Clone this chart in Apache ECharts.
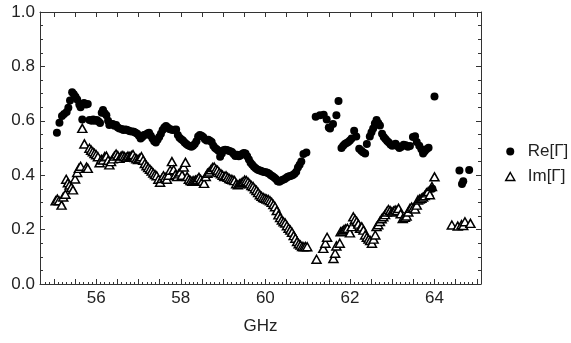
<!DOCTYPE html>
<html>
<head>
<meta charset="utf-8">
<script src="https://cdn.jsdelivr.net/npm/echarts@6/dist/echarts.min.js"></script>
<style>
html,body{margin:0;padding:0;background:#fff;}
#chart{width:571px;height:343px;}
</style>
</head>
<body>
<div id="chart"></div>
<script>
// ---- data ----
const reFreq = [55.07,55.13,55.19,55.24,55.30,55.34,55.38,55.43,55.47,55.51,55.55,55.60,55.63,55.67,55.71,55.76,55.80,55.84,55.89,55.93,55.97,56.01,56.05,56.09,56.13,56.16,56.20,56.24,56.28,56.31,56.35,56.39,56.43,56.47,56.51,56.55,56.60,56.64,56.68,56.72,56.76,56.80,56.85,56.89,56.93,56.97,57.01,57.05,57.09,57.13,57.17,57.21,57.25,57.29,57.33,57.37,57.41,57.45,57.49,57.53,57.57,57.61,57.65,57.69,57.73,57.77,57.81,57.85,57.89,57.93,57.97,58.01,58.05,58.09,58.13,58.17,58.21,58.25,58.29,58.33,58.37,58.41,58.45,58.49,58.53,58.57,58.61,58.65,58.69,58.73,58.77,58.81,58.85,58.89,58.93,58.97,59.01,59.05,59.09,59.13,59.17,59.21,59.25,59.29,59.33,59.37,59.41,59.45,59.49,59.53,59.57,59.61,59.65,59.69,59.73,59.77,59.81,59.85,59.89,59.93,59.97,60.01,60.05,60.09,60.13,60.17,60.21,60.25,60.29,60.33,60.37,60.41,60.45,60.49,60.53,60.57,60.61,60.65,60.69,60.73,60.77,60.81,60.85,60.90,60.97,
61.19,61.29,61.38,61.45,61.50,61.53,61.60,61.68,61.73,61.80,61.84,61.88,61.92,61.96,62.00,62.04,62.10,62.15,62.22,62.27,62.31,62.36,62.40,62.47,62.51,62.55,62.59,62.63,62.67,62.71,62.76,62.80,62.84,62.88,62.92,62.96,63.00,63.04,63.08,63.12,63.17,63.22,63.27,63.32,63.37,63.42,63.49,63.54,63.58,63.64,63.69,63.73,63.77,63.81,63.86,63.95,64.00,64.59,64.65,64.68,64.82];
const reVal = [0.556,0.593,0.618,0.625,0.632,0.648,0.675,0.705,0.698,0.688,0.678,0.660,0.650,0.605,0.665,0.660,0.662,0.603,0.600,0.605,0.600,0.603,0.598,0.592,0.630,0.640,0.628,0.620,0.600,0.585,0.588,0.588,0.582,0.585,0.575,0.572,0.570,0.566,0.568,0.567,0.564,0.562,0.561,0.560,0.556,0.552,0.545,0.535,0.540,0.548,0.549,0.553,0.556,0.545,0.535,0.525,0.520,0.530,0.540,0.552,0.566,0.575,0.581,0.575,0.570,0.568,0.566,0.567,0.568,0.548,0.538,0.532,0.528,0.520,0.515,0.510,0.507,0.505,0.508,0.515,0.525,0.542,0.548,0.545,0.540,0.532,0.528,0.530,0.527,0.522,0.508,0.500,0.495,0.490,0.468,0.480,0.492,0.494,0.493,0.490,0.488,0.485,0.478,0.471,0.475,0.470,0.472,0.478,0.482,0.480,0.470,0.458,0.446,0.438,0.431,0.426,0.421,0.418,0.416,0.414,0.412,0.411,0.409,0.405,0.400,0.396,0.392,0.386,0.378,0.376,0.380,0.383,0.385,0.390,0.394,0.396,0.398,0.401,0.405,0.413,0.428,0.438,0.450,0.478,0.483,
0.615,0.620,0.622,0.605,0.575,0.572,0.588,0.620,0.673,0.500,0.508,0.515,0.518,0.522,0.528,0.535,0.563,0.542,0.497,0.490,0.484,0.480,0.515,0.542,0.558,0.572,0.590,0.603,0.592,0.583,0.552,0.540,0.533,0.526,0.520,0.513,0.508,0.512,0.516,0.507,0.500,0.505,0.512,0.510,0.505,0.507,0.540,0.543,0.522,0.508,0.495,0.480,0.488,0.495,0.501,0.350,0.689,0.417,0.368,0.378,0.419];

const imFreq = [55.04,55.08,55.12,55.18,55.22,55.27,55.29,55.33,55.37,55.41,55.45,55.50,55.55,55.59,55.63,55.67,55.72,55.77,55.80,55.84,55.88,55.92,55.96,56.00,56.04,56.08,56.12,56.16,56.20,56.24,56.28,56.31,56.35,56.39,56.43,56.47,56.51,56.55,56.59,56.63,56.67,56.71,56.75,56.79,56.83,56.87,56.91,56.95,56.99,57.03,57.07,57.11,57.15,57.19,57.23,57.27,57.31,57.35,57.39,57.43,57.47,57.51,57.55,57.59,57.63,57.67,57.71,57.75,57.79,57.83,57.87,57.91,57.95,57.99,58.03,58.07,58.11,58.15,58.19,58.23,58.27,58.31,58.35,58.39,58.43,58.47,58.51,58.55,58.59,58.63,58.67,58.71,58.75,58.79,58.83,58.87,58.91,58.95,58.99,59.03,59.07,59.11,59.15,59.19,59.23,59.27,59.31,59.35,59.39,59.43,59.47,59.51,59.55,59.59,59.63,59.67,59.71,59.75,59.79,59.83,59.87,59.91,59.95,59.99,60.03,60.07,60.11,60.15,60.19,60.23,60.27,60.31,60.35,60.39,60.43,60.47,60.51,60.55,60.59,60.63,60.67,60.71,60.75,60.79,60.83,60.87,60.91,60.95,60.99,
61.21,61.37,61.42,61.46,61.61,61.65,61.68,61.76,61.78,61.82,61.86,61.90,61.94,62.00,62.04,62.08,62.12,62.16,62.20,62.24,62.28,62.32,62.36,62.40,62.44,62.48,62.52,62.56,62.60,62.63,62.67,62.71,62.75,62.79,62.83,62.87,62.91,62.95,62.99,63.03,63.07,63.11,63.15,63.20,63.25,63.30,63.34,63.38,63.42,63.46,63.50,63.54,63.58,63.61,63.65,63.69,63.73,63.77,63.81,63.85,63.89,63.94,64.00,64.41,64.55,64.64,64.68,64.72,64.85];
const imVal = [0.306,0.312,0.306,0.290,0.320,0.330,0.385,0.372,0.364,0.355,0.346,0.386,0.410,0.425,0.433,0.572,0.515,0.430,0.425,0.499,0.492,0.486,0.480,0.475,0.468,0.446,0.458,0.456,0.468,0.470,0.455,0.438,0.450,0.460,0.470,0.478,0.472,0.462,0.470,0.472,0.468,0.466,0.470,0.468,0.472,0.476,0.465,0.460,0.458,0.462,0.468,0.455,0.443,0.435,0.428,0.422,0.415,0.408,0.402,0.398,0.385,0.374,0.388,0.398,0.392,0.385,0.400,0.418,0.450,0.420,0.402,0.395,0.405,0.412,0.400,0.430,0.447,0.395,0.385,0.380,0.378,0.380,0.382,0.385,0.392,0.385,0.378,0.370,0.395,0.407,0.412,0.420,0.428,0.430,0.422,0.418,0.410,0.405,0.400,0.395,0.398,0.392,0.388,0.385,0.383,0.380,0.368,0.365,0.368,0.372,0.376,0.382,0.380,0.375,0.368,0.362,0.358,0.350,0.344,0.336,0.328,0.322,0.318,0.315,0.312,0.310,0.306,0.300,0.292,0.284,0.270,0.254,0.244,0.235,0.229,0.224,0.214,0.205,0.198,0.190,0.178,0.168,0.156,0.148,0.143,0.138,0.137,0.138,0.137,
0.091,0.131,0.150,0.172,0.094,0.113,0.140,0.150,0.192,0.195,0.200,0.203,0.205,0.188,0.211,0.247,0.238,0.230,0.220,0.205,0.210,0.198,0.180,0.172,0.165,0.160,0.150,0.165,0.180,0.211,0.218,0.230,0.240,0.247,0.255,0.265,0.274,0.270,0.265,0.268,0.272,0.270,0.278,0.258,0.241,0.245,0.250,0.265,0.278,0.283,0.280,0.276,0.290,0.309,0.312,0.315,0.320,0.325,0.335,0.340,0.328,0.358,0.394,0.217,0.213,0.218,0.215,0.229,0.223];

const seriesNames = ['Re[\u0393]', 'Im[\u0393]'];
const xTickLabels = [56, 58, 60, 62, 64];
const xMajorTicks = [55, 55.5, 56, 56.5, 57, 57.5, 58, 58.5, 59, 59.5, 60, 60.5, 61, 61.5, 62, 62.5, 63, 63.5, 64, 64.5, 65];
const yTickLabels = [0, 0.2, 0.4, 0.6, 0.8, 1.0];
const xTitle = 'GHz';

// ---- chart ----
const xMinor = [];
for (let i = 548; i <= 651; i++) xMinor.push(i / 10);

const reData = reFreq.map((f, i) => [f, reVal[i]]);
const imData = imFreq.map((f, i) => [f, imVal[i]]);

const XMIN = 54.67, XMAX = 65.1;
const frameColor = '#333';
const textColor = '#222';
const font = 'Liberation Sans, Arial, sans-serif';

const chart = echarts.init(document.getElementById('chart'), null, {renderer: 'canvas'});
chart.setOption({
  animation: false,
  backgroundColor: '#fff',
  grid: {left: 40, right: 90, top: 12, bottom: 59, containLabel: false},
  legend: {
    orient: 'vertical',
    left: 500, top: 138,
    itemWidth: 9, itemHeight: 8, itemGap: 8,
    textStyle: {fontSize: 17, color: textColor, fontFamily: font, padding: [0, 0, 0, 8]},
    data: [
      {name: seriesNames[0], icon: 'circle', itemStyle: {color: '#000'}},
      {name: seriesNames[1], icon: 'triangle', itemStyle: {color: '#fff', borderColor: '#000', borderWidth: 1.5}}
    ]
  },
  xAxis: [
    {
      type: 'value', min: XMIN, max: XMAX, position: 'bottom',
      name: xTitle, nameLocation: 'middle', nameGap: 34,
      nameTextStyle: {fontSize: 17, color: textColor, fontFamily: font},
      axisLine: {show: true, onZero: false, lineStyle: {color: frameColor, width: 1}},
      axisTick: {show: true, inside: true, length: 5, customValues: xMajorTicks, lineStyle: {color: frameColor}},
      axisLabel: {show: true, customValues: xTickLabels, fontSize: 17, color: textColor, fontFamily: font, margin: 6},
      splitLine: {show: false}
    },
    {
      type: 'value', min: XMIN, max: XMAX, position: 'bottom',
      axisLine: {show: false, onZero: false},
      axisTick: {show: true, inside: true, length: 2, customValues: xMinor, lineStyle: {color: frameColor}},
      axisLabel: {show: false},
      splitLine: {show: false}
    },
    {
      type: 'value', min: XMIN, max: XMAX, position: 'top',
      axisLine: {show: true, onZero: false, lineStyle: {color: frameColor, width: 1}},
      axisTick: {show: true, inside: true, length: 5, customValues: xMajorTicks, lineStyle: {color: frameColor}},
      axisLabel: {show: false},
      splitLine: {show: false}
    }
  ],
  yAxis: [
    {
      type: 'value', min: 0, max: 1, interval: 0.2, position: 'left',
      axisLine: {show: true, onZero: false, lineStyle: {color: frameColor, width: 1}},
      axisTick: {show: true, inside: true, length: 5, lineStyle: {color: frameColor}},
      minorTick: {show: true, splitNumber: 4, length: 3, lineStyle: {color: frameColor}},
      axisLabel: {show: true, fontSize: 17, color: textColor, fontFamily: font, margin: 5,
        formatter: v => yTickLabels.some(t => Math.abs(t - v) < 1e-9) ? v.toFixed(1) : ''},
      splitLine: {show: false}, minorSplitLine: {show: false}
    },
    {
      type: 'value', min: 0, max: 1, interval: 0.2, position: 'right',
      axisLine: {show: true, onZero: false, lineStyle: {color: frameColor, width: 1}},
      axisTick: {show: true, inside: true, length: 5, lineStyle: {color: frameColor}},
      minorTick: {show: true, splitNumber: 4, length: 3, lineStyle: {color: frameColor}},
      axisLabel: {show: false},
      splitLine: {show: false}, minorSplitLine: {show: false}
    }
  ],
  series: [
    {
      name: seriesNames[0], type: 'scatter', xAxisIndex: 0, yAxisIndex: 0,
      symbol: 'circle', symbolSize: 8, z: 3,
      itemStyle: {color: '#000', opacity: 1},
      data: reData
    },
    {
      name: seriesNames[1], type: 'scatter', xAxisIndex: 0, yAxisIndex: 0,
      symbol: 'triangle', symbolSize: [9, 8], z: 2,
      itemStyle: {color: '#fff', borderColor: '#000', borderWidth: 1.5, opacity: 1},
      data: imData
    }
  ]
});
</script>
</body>
</html>
